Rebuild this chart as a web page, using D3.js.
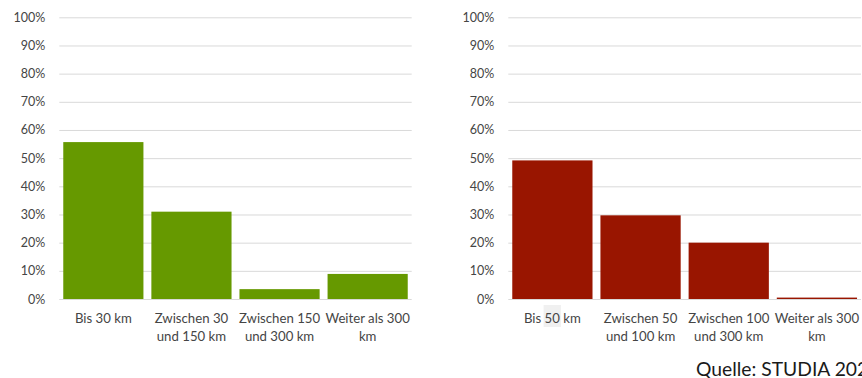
<!DOCTYPE html>
<html>
<head>
<meta charset="utf-8">
<script src="https://cdn.jsdelivr.net/npm/d3@7"></script>
<style>
  html, body { margin: 0; padding: 0; background: #fff; }
  svg { display: block; font-family: Lato, "Open Sans", sans-serif; }
</style>
</head>
<body>
<svg id="chart" width="862" height="378"></svg>
<script>
// Distance categories and shares for the two surveys
const leftCategories = ["Bis 30 km", "Zwischen 30\nund 150 km", "Zwischen 150\nund 300 km", "Weiter als 300\nkm"];
const leftValues = [0.557, 0.310, 0.035, 0.089];
const rightCategories = ["Bis 50 km", "Zwischen 50\nund 100 km", "Zwischen 100\nund 300 km", "Weiter als 300\nkm"];
const rightValues = [0.492, 0.297, 0.200, 0.005];
const yTicks = [0, 0.1, 0.2, 0.3, 0.4, 0.5, 0.6, 0.7, 0.8, 0.9, 1.0];
const sourceNote = "Quelle: STUDIA 2022";

const svg = d3.select("#chart");
const textColor = "#454545";
const gridColor = "#d9d9d9";

const y = d3.scaleLinear().domain([0, 1]).range([299, 17.3]);

function drawChart(x0, x1, categories, values, color) {
  const g = svg.append("g");
  const x = d3.scaleBand()
    .domain(categories)
    .range([x0, x1])
    .paddingInner(0.09)
    .paddingOuter(0.045);

  // gridlines + percentage labels
  const axis = d3.axisLeft(y)
    .tickValues(yTicks)
    .tickFormat(d3.format(".0%"))
    .tickSize(-(x1 - x0))
    .tickPadding(14);
  const ag = g.append("g")
    .attr("transform", `translate(${x0},0)`)
    .call(axis);
  ag.select(".domain").remove();
  ag.selectAll(".tick line").attr("stroke", gridColor).attr("stroke-width", 1);
  ag.selectAll(".tick text")
    .attr("fill", textColor)
    .style("font-size", "12.5px")
    .style("font-family", "Lato, 'Open Sans', sans-serif");

  // bars
  g.append("g").selectAll("rect")
    .data(categories.map((c, i) => ({ c, v: values[i] })))
    .join("rect")
    .attr("x", d => x(d.c))
    .attr("width", x.bandwidth())
    .attr("y", d => y(d.v))
    .attr("height", d => y(0) - y(d.v))
    .attr("fill", color);

  // category labels, one tspan per line
  const labels = g.append("g").selectAll("text")
    .data(categories)
    .join("text")
    .attr("text-anchor", "middle")
    .attr("fill", textColor)
    .style("font-size", "13.2px")
    .attr("x", d => x(d) + x.bandwidth() / 2)
    .attr("y", 323);
  labels.each(function (d) {
    const t = d3.select(this);
    d.split("\n").forEach((line, i) => {
      t.append("tspan")
        .attr("x", x(d) + x.bandwidth() / 2)
        .attr("dy", i === 0 ? 0 : 18)
        .text(line);
    });
  });
  return labels;
}

drawChart(59.3, 411.7, leftCategories, leftValues, "#669900");
const rightLabels = drawChart(508.3, 861, rightCategories, rightValues, "#991500");

// light highlight behind the "50" of the first right-hand label
const firstLabel = rightLabels.filter((d, i) => i === 0).node();
const startIdx = rightCategories[0].indexOf("50");
const a = firstLabel.getExtentOfChar(startIdx);
const b = firstLabel.getExtentOfChar(startIdx + 1);
d3.select(firstLabel.parentNode).insert("rect", "text")
  .attr("x", a.x - 1)
  .attr("y", 305)
  .attr("width", b.x + b.width - a.x + 2)
  .attr("height", 22)
  .attr("fill", "#f0f0f0");

// source note, running into the right edge
svg.append("text")
  .attr("x", 696)
  .attr("y", 376)
  .attr("fill", "#1a1a1a")
  .style("font-size", "19.3px")
  .style("font-family", "Lato, 'Open Sans', sans-serif")
  .text(sourceNote);
</script>
</body>
</html>
